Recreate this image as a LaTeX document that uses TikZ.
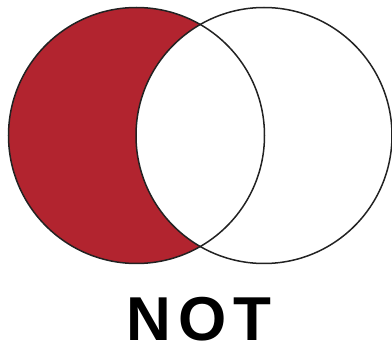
\documentclass[tikz,border=0pt]{standalone}
\usepackage{fontspec}
\usetikzlibrary{positioning}
\definecolor{vennred}{HTML}{B2242F}
\definecolor{vennline}{HTML}{222222}
\newfontfamily\vennfont[LetterSpace=12]{Liberation Sans Bold}
\newcommand{\vennradius}{128pt}

\begin{document}
\begin{tikzpicture}[x=1pt, y=1pt]
      \useasboundingbox (0,0) rectangle (392,349);
      \coordinate (setA) at (136.5,213.5);
      \coordinate (setB) at (264,213.5);
      % left set without the right one
      \begin{scope}
        \clip (setA) circle (\vennradius);
        \fill[vennred] (setA) circle (\vennradius);
        \fill[white] (setB) circle (\vennradius);
      \end{scope}
      \draw[vennline, line width=1.5pt] (setA) circle (\vennradius);
      \draw[vennline, line width=1.5pt] (setB) circle (\vennradius);
      \node[font=\vennfont\fontsize{62}{62}\selectfont, inner sep=0pt] (label) at (199,30) {NOT};
    \end{tikzpicture}
\end{document}
